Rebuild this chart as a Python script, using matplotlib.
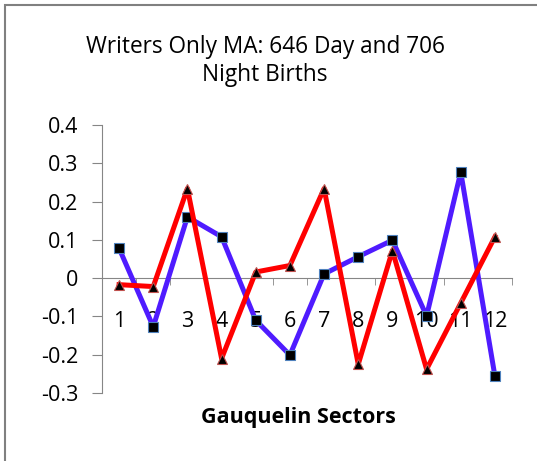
import matplotlib.pyplot as plt
from matplotlib.patches import Rectangle
import numpy as np

sectors = ['1', '2', '3', '4', '5', '6', '7', '8', '9', '10', '11', '12']
day_births = [0.078, -0.127, 0.160, 0.108, -0.110, -0.201, 0.011, 0.056, 0.099, -0.099, 0.277, -0.256]
night_births = [-0.017, -0.022, 0.234, -0.210, 0.016, 0.033, 0.234, -0.225, 0.072, -0.238, -0.065, 0.108]
y_ticks = [-0.3, -0.2, -0.1, 0, 0.1, 0.2, 0.3, 0.4]
y_labels = ['-0.3', '-0.2', '-0.1', '0', '0.1', '0.2', '0.3', '0.4']

plt.rcParams['font.family'] = ['Open Sans', 'DejaVu Sans']
grey = '#868686'

fig = plt.figure(figsize=(5.37, 4.61), dpi=100)
ax = fig.add_axes([102 / 537, 1 - 393 / 461, 410 / 537, 268 / 461])

x = np.arange(1, len(sectors) + 1)
ax.plot(x, day_births, color='#4F1BFF', lw=3.6, marker='s', ms=7.5,
        mfc='black', mec='#4F81BD', mew=0.8, zorder=3)
ax.plot(x, night_births, color='#FF0000', lw=3.6, marker='^', ms=7.5,
        mfc='black', mec='#C0504D', mew=0.8, zorder=4)

ax.set_xlim(0.5, 12.5)
ax.set_ylim(-0.3, 0.4)

for s in ['top', 'right']:
    ax.spines[s].set_visible(False)
ax.spines['left'].set_color(grey)
ax.spines['bottom'].set_color(grey)
ax.spines['bottom'].set_position(('data', 0))

ax.set_yticks(y_ticks)
ax.set_yticklabels(y_labels, fontsize=15.5)
ax.tick_params(axis='y', length=7, color=grey, pad=10)

ax.set_xticks(x)
ax.set_xticklabels(sectors, fontsize=15.5)
ax.set_xticks(np.arange(0.5, 13, 1), minor=True)
ax.tick_params(axis='x', which='major', length=0, pad=24)
ax.tick_params(axis='x', which='minor', length=5, color=grey)

fig.text(298 / 537, 1 - 417 / 461, 'Gauquelin Sectors', ha='center', va='center',
         fontsize=15.5, fontweight='bold')
fig.text(265 / 537, 1 - 61 / 461, 'Writers Only MA: 646 Day and 706\nNight Births',
         ha='center', va='center', fontsize=16.3, linespacing=1.25)

fig.add_artist(Rectangle((5 / 537, -0.1), 1.2, 1.1 - 5 / 461, transform=fig.transFigure,
                         fill=False, edgecolor='#808080', lw=1.5))

fig.savefig('out.png', dpi=100)
